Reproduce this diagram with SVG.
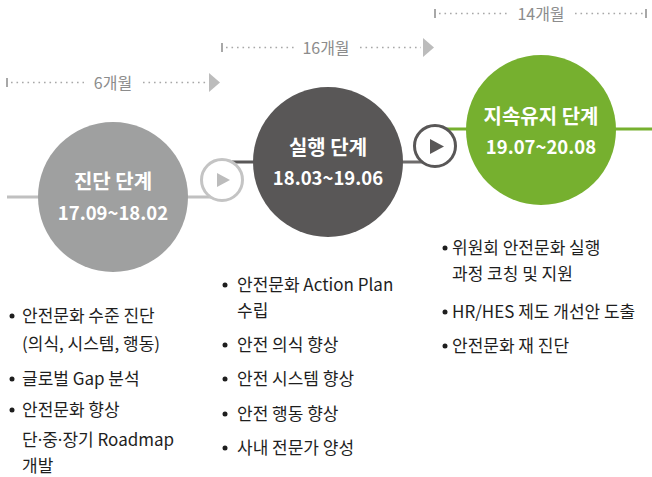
<svg xmlns="http://www.w3.org/2000/svg" width="652" height="477" viewBox="0 0 652 477">
<style>
  text { font-family: "Noto Sans CJK KR", "Noto Sans", sans-serif; }
  .dur { font-size: 16px; fill: #8c8c8c; text-anchor: middle; }
  .dot { stroke: #a8a8a8; stroke-width: 1.6; stroke-dasharray: 1.6 3.9; fill: none; }
  .tick { stroke: #a8a8a8; stroke-width: 2; }
  .tri { fill: #bcbcbc; }
  .title { font-size: 20px; font-weight: bold; fill: #ffffff; text-anchor: middle; }
  .date { font-size: 18.5px; font-weight: bold; fill: #ffffff; text-anchor: middle; }
  .item { font-size: 17px; fill: #1e1e1e; }
  .bul { fill: #1e1e1e; }
  .md { font-family: "Noto Sans", "DejaVu Sans", sans-serif; }
</style>
<rect width="652" height="477" fill="#ffffff"/>

<g id="connectors" fill="none" stroke-width="3">
  <line x1="7" y1="197" x2="212" y2="197" stroke="#c0c0c0"/>
  <line x1="232" y1="162" x2="300" y2="162" stroke="#595757"/>
  <line x1="380" y1="162" x2="424" y2="162" stroke="#6e6c6c"/>
  <line x1="446" y1="129" x2="652" y2="129" stroke="#76b02f"/>
</g>

<g id="dur-6">
  <line class="tick" x1="7" y1="78" x2="7" y2="87"/>
  <line class="dot" x1="11" y1="82.5" x2="84" y2="82.5"/>
  <text class="dur" x="113" y="88.5">6개월</text>
  <line class="dot" x1="143" y1="82.5" x2="206" y2="82.5"/>
  <polygon class="tri" points="209,73 209,92 220,82.5"/>
</g>
<g id="dur-16">
  <line class="tick" x1="222" y1="43" x2="222" y2="52"/>
  <line class="dot" x1="226" y1="47.5" x2="294" y2="47.5"/>
  <text class="dur" x="326" y="53.5">16개월</text>
  <line class="dot" x1="360" y1="47.5" x2="421" y2="47.5"/>
  <polygon class="tri" points="423,38 423,57 434,47.5"/>
</g>
<g id="dur-14">
  <line class="tick" x1="435" y1="9" x2="435" y2="18"/>
  <line class="dot" x1="439" y1="13.5" x2="508" y2="13.5"/>
  <text class="dur" x="541" y="19.5">14개월</text>
  <line class="dot" x1="575" y1="13.5" x2="643" y2="13.5"/>
  <line class="tick" x1="646" y1="9" x2="646" y2="18"/>
</g>

<g id="phase1">
  <circle cx="113" cy="197" r="75" fill="#9fa0a0"/>
  <text class="title" x="113" y="189">진단 단계</text>
  <text class="date" x="113" y="220">17.09~18.02</text>
</g>
<g id="play1">
  <circle cx="222" cy="180" r="20.5" fill="#ffffff" stroke="#c4c4c4" stroke-width="3"/>
  <polygon points="217,173 217,187 230,180" fill="#bcbcbc"/>
</g>
<g id="phase2">
  <circle cx="328" cy="162" r="75" fill="#595757"/>
  <text class="title" x="328" y="155">실행 단계</text>
  <text class="date" x="328" y="185">18.03~19.06</text>
</g>
<g id="play2">
  <circle cx="435" cy="146" r="20.5" fill="#ffffff" stroke="#595757" stroke-width="3"/>
  <polygon points="430,139 430,154 444,146.5" fill="#595757"/>
</g>
<g id="phase3">
  <circle cx="541" cy="130" r="75" fill="#76b02f"/>
  <text class="title" x="541" y="124">지속유지 단계</text>
  <text class="date" x="541" y="154">19.07~20.08</text>
</g>

<g id="list1">
  <circle class="bul" cx="12" cy="316" r="2.5"/>
  <text class="item" x="22" y="321.5">안전문화 수준 진단</text>
  <text class="item" x="22" y="349.5">(의식, 시스템, 행동)</text>
  <circle class="bul" cx="12" cy="379" r="2.5"/>
  <text class="item" x="22" y="384.5">글로벌 Gap 분석</text>
  <circle class="bul" cx="12" cy="410" r="2.5"/>
  <text class="item" x="22" y="415.5">안전문화 향상</text>
  <text class="item" x="22" y="445.5">단<tspan class="md">·</tspan>중<tspan class="md">·</tspan>장기 Roadmap</text>
  <text class="item" x="22" y="471.5">개발</text>
</g>
<g id="list2">
  <circle class="bul" cx="225" cy="285" r="2.5"/>
  <text class="item" x="237" y="290.5">안전문화 Action Plan</text>
  <text class="item" x="237" y="316.5">수립</text>
  <circle class="bul" cx="225" cy="345" r="2.5"/>
  <text class="item" x="237" y="350.5">안전 의식 향상</text>
  <circle class="bul" cx="225" cy="379" r="2.5"/>
  <text class="item" x="237" y="384.5">안전 시스템 향상</text>
  <circle class="bul" cx="225" cy="414" r="2.5"/>
  <text class="item" x="237" y="419.5">안전 행동 향상</text>
  <circle class="bul" cx="225" cy="448" r="2.5"/>
  <text class="item" x="237" y="453.5">사내 전문가 양성</text>
</g>
<g id="list3">
  <circle class="bul" cx="445" cy="248" r="2.5"/>
  <text class="item" x="452" y="253.5">위원회 안전문화 실행</text>
  <text class="item" x="452" y="279.5">과정 코칭 및 지원</text>
  <circle class="bul" cx="445" cy="312" r="2.5"/>
  <text class="item" x="452" y="317.5">HR/HES 제도 개선안 도출</text>
  <circle class="bul" cx="445" cy="346" r="2.5"/>
  <text class="item" x="452" y="351.5">안전문화 재 진단</text>
</g>
</svg>
